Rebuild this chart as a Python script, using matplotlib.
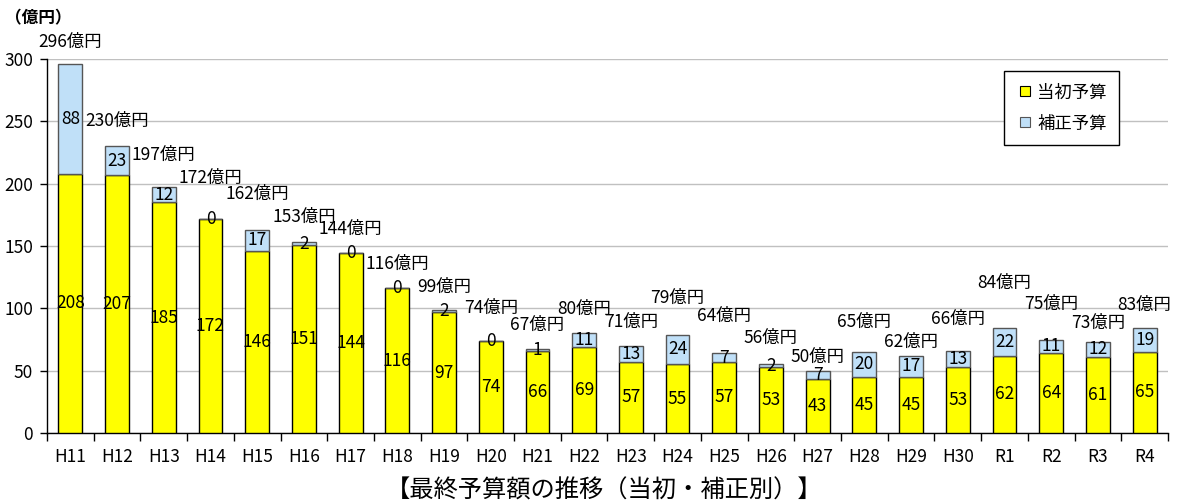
import matplotlib
matplotlib.use("Agg")
import matplotlib.pyplot as plt
from matplotlib.lines import Line2D
import numpy as np

plt.rcParams['font.family'] = ['Noto Sans CJK JP', 'DejaVu Sans']

categories = ["H11", "H12", "H13", "H14", "H15", "H16", "H17", "H18", "H19", "H20",
              "H21", "H22", "H23", "H24", "H25", "H26", "H27", "H28", "H29", "H30",
              "R1", "R2", "R3", "R4"]
initial = [208, 207, 185, 172, 146, 151, 144, 116, 97, 74,
           66, 69, 57, 55, 57, 53, 43, 45, 45, 53,
           62, 64, 61, 65]
supplementary = [88, 23, 12, 0, 17, 2, 0, 0, 2, 0,
                 1, 11, 13, 24, 7, 2, 7, 20, 17, 13,
                 22, 11, 12, 19]
totals = [296, 230, 197, 172, 162, 153, 144, 116, 99, 74,
          67, 80, 71, 79, 64, 56, 50, 65, 62, 66,
          84, 75, 73, 83]
# vertical placement of the total labels (data units)
total_label_y = [314, 250, 223, 204.5, 191.7, 173.3, 163.6, 135.6, 117.1, 100.3,
                 86.6, 99.5, 89.0, 108.3, 93.8, 76.2, 61.0, 89.0, 73.0, 91.4,
                 120.3, 103.5, 88.2, 102.7]
yticks = [0, 50, 100, 150, 200, 250, 300]

yellow = "#FFFF00"
blue = "#C0E0F8"

fig = plt.figure(figsize=(11.83, 5.03), dpi=100)
ax = fig.add_axes([47/1183, 70/503, 1121/1183, 374/503])

x = np.arange(len(categories))
w = 0.51
ax.bar(x, initial, width=w, color=yellow, edgecolor="#000000", linewidth=1.0, zorder=3)
ax.bar(x, supplementary, width=w, bottom=initial, color=blue, edgecolor="#555555",
       linewidth=1.0, zorder=3)

fs = 12.5
for i in range(len(categories)):
    ax.text(x[i], initial[i] / 2, str(initial[i]), ha="center", va="center",
            fontsize=fs, zorder=4)
    ax.text(x[i], initial[i] + supplementary[i] / 2, str(supplementary[i]),
            ha="center", va="center", fontsize=fs, zorder=4)
    ax.text(x[i], total_label_y[i], f"{totals[i]}億円", ha="center", va="center",
            fontsize=fs, zorder=4)

ax.set_xlim(-0.5, len(categories) - 0.5)
ax.set_ylim(0, 300)
ax.set_yticks(yticks)
ax.set_yticklabels([str(v) for v in yticks], fontsize=fs)
ax.yaxis.grid(True, color="#C0C0C0", linewidth=1.0, zorder=0)
ax.set_axisbelow(True)

ax.set_xticks(x)
ax.set_xticklabels(categories, fontsize=fs)
ax.set_xticks(np.arange(-0.5, len(categories) + 0.5, 1), minor=True)
ax.tick_params(axis="x", which="major", length=0, pad=11)
ax.tick_params(axis="x", which="minor", length=6, width=1, direction="out")
ax.tick_params(axis="y", length=5, width=1, direction="out", pad=5)

for s in ["top", "right"]:
    ax.spines[s].set_visible(False)
ax.spines["left"].set_linewidth(1.0)
ax.spines["bottom"].set_linewidth(1.0)

handles = [
    Line2D([], [], marker="s", linestyle="none", markersize=7,
           markerfacecolor=yellow, markeredgecolor="#000000", markeredgewidth=0.8),
    Line2D([], [], marker="s", linestyle="none", markersize=7,
           markerfacecolor=blue, markeredgecolor="#555555", markeredgewidth=0.8),
]
leg = ax.legend(handles, ["当初予算", "補正予算"], loc="upper left",
                bbox_to_anchor=(0.854, 0.967), fontsize=fs, frameon=True,
                fancybox=False, edgecolor="#000000", framealpha=1,
                handletextpad=0.2, handlelength=1.0, borderpad=0.7,
                labelspacing=0.75, borderaxespad=0)
leg.get_frame().set_linewidth(1.0)
leg.set_zorder(5)

fig.text(5/1183, 1 - 18/503, "（億円）", fontsize=12, fontweight="bold",
         ha="left", va="center")
fig.text(604/1183, 1 - 491/503, "【最終予算額の推移（当初・補正別）】", fontsize=17.5,
         ha="center", va="center")

fig.savefig("out.png", dpi=100)
